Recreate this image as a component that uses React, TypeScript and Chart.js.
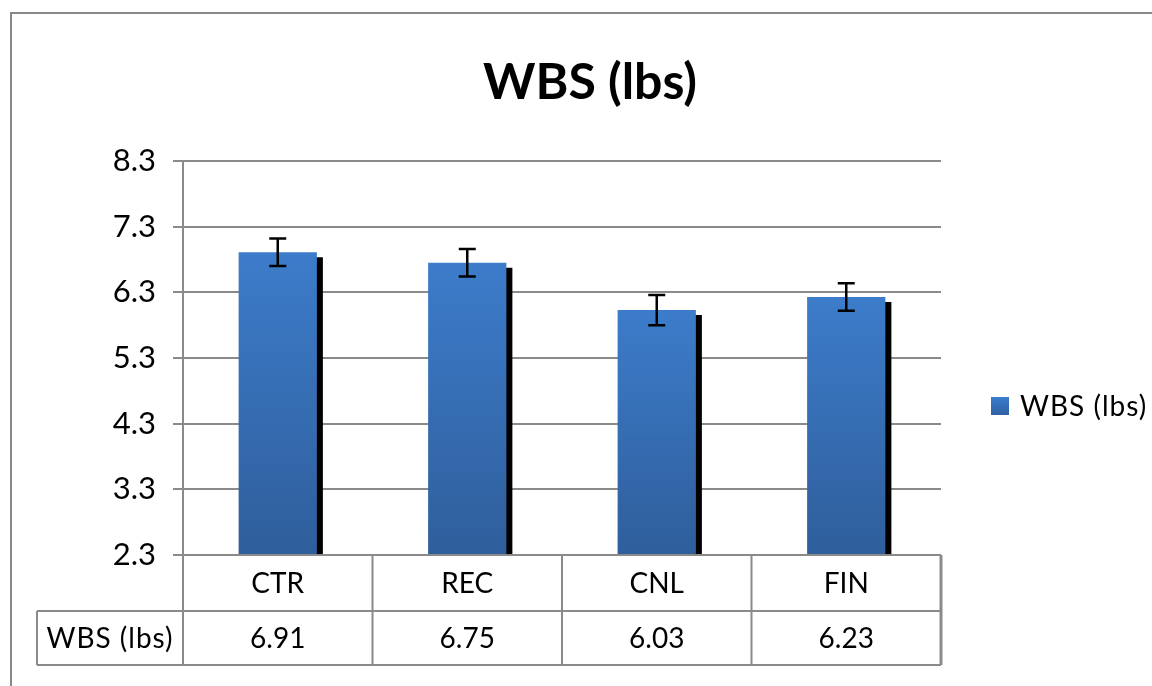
import React, { useEffect, useRef } from 'react';
import { Chart, registerables } from 'chart.js';

Chart.register(...registerables);

const chartTitle = 'WBS (lbs)';
const seriesName = 'WBS (lbs)';
const categories = ['CTR', 'REC', 'CNL', 'FIN'];
const values = [6.91, 6.75, 6.03, 6.23];
const errors = [0.21, 0.21, 0.23, 0.21];
const yTicks = [2.3, 3.3, 4.3, 5.3, 6.3, 7.3, 8.3];

const FONT = 'Lato, "Noto Sans", sans-serif';
const GRID = '#8a8a8a';

const decorPlugin = {
  id: 'decor',
  beforeDatasetsDraw(chart: any) {
    const ctx = chart.ctx;
    ctx.save();
    ctx.shadowColor = '#000000';
    ctx.shadowOffsetX = 6;
    ctx.shadowOffsetY = 5;
    ctx.shadowBlur = 0;
  },
  afterDatasetsDraw(chart: any) {
    const ctx = chart.ctx;
    ctx.restore();
    // error bars
    const meta = chart.getDatasetMeta(0);
    const y = chart.scales.y;
    ctx.save();
    ctx.strokeStyle = '#000';
    ctx.lineWidth = 2.5;
    meta.data.forEach((bar: any, i: number) => {
      const x = bar.x;
      const yt = y.getPixelForValue(values[i] + errors[i]);
      const yb = y.getPixelForValue(values[i] - errors[i]);
      ctx.beginPath();
      ctx.moveTo(x, yt);
      ctx.lineTo(x, yb);
      ctx.moveTo(x - 8.5, yt);
      ctx.lineTo(x + 8.5, yt);
      ctx.moveTo(x - 8.5, yb);
      ctx.lineTo(x + 8.5, yb);
      ctx.stroke();
    });
    ctx.restore();
  },
  afterDraw(chart: any) {
    const ctx = chart.ctx;
    const ca = chart.chartArea;
    const xs = chart.scales.x;
    ctx.save();
    // outer frame
    ctx.strokeStyle = '#888888';
    ctx.lineWidth = 2;
    ctx.beginPath();
    ctx.moveTo(11, 686);
    ctx.lineTo(11, 13);
    ctx.lineTo(1152, 13);
    ctx.stroke();

    // title
    ctx.fillStyle = '#000';
    ctx.font = `bold 50px ${FONT}`;
    ctx.textAlign = 'center';
    ctx.textBaseline = 'alphabetic';
    ctx.fillText(chartTitle, 590, 99);

    // legend
    const lg = ctx.createLinearGradient(0, 397, 0, 415);
    lg.addColorStop(0, '#3c7dcd');
    lg.addColorStop(1, '#2e60a0');
    ctx.fillStyle = lg;
    ctx.fillRect(991, 397, 18, 18);
    ctx.fillStyle = '#000';
    ctx.font = `28px ${FONT}`;
    (ctx as any).letterSpacing = '1px';
    ctx.textAlign = 'left';
    ctx.textBaseline = 'middle';
    ctx.fillText(seriesName, 1020, 407);
    (ctx as any).letterSpacing = '0px';

    // data table
    const top = ca.bottom;
    const mid = 611;
    const bot = 665;
    const left = ca.left;
    const right = ca.right;
    const labelLeft = 37;
    ctx.strokeStyle = GRID;
    ctx.lineWidth = 2;
    ctx.beginPath();
    ctx.moveTo(left, top);
    ctx.lineTo(right, top);
    ctx.moveTo(labelLeft, mid);
    ctx.lineTo(right, mid);
    ctx.moveTo(labelLeft, bot);
    ctx.lineTo(right, bot);
    ctx.moveTo(labelLeft, mid);
    ctx.lineTo(labelLeft, bot);
    ctx.moveTo(left, top);
    ctx.lineTo(left, bot);
    for (let i = 1; i < categories.length; i++) {
      const bx = (xs.getPixelForValue(i - 1) + xs.getPixelForValue(i)) / 2;
      ctx.moveTo(bx, top);
      ctx.lineTo(bx, bot);
    }
    ctx.stroke();
    ctx.lineWidth = 3;
    ctx.beginPath();
    ctx.moveTo(right, top);
    ctx.lineTo(right, bot);
    ctx.stroke();

    ctx.fillStyle = '#000';
    ctx.font = `28px ${FONT}`;
    ctx.textAlign = 'center';
    ctx.textBaseline = 'middle';
    categories.forEach((c, i) => {
      const cx = xs.getPixelForValue(i);
      ctx.fillText(c, cx, (top + mid) / 2 + 1);
      ctx.fillText(values[i].toFixed(2), cx, (mid + bot) / 2 + 1);
    });
    (ctx as any).letterSpacing = '1px';
    ctx.fillText(seriesName, (labelLeft + left) / 2, (mid + bot) / 2 + 1);
    ctx.restore();
  },
};

export default function App() {
  const ref = useRef<HTMLCanvasElement | null>(null);
  useEffect(() => {
    document.body.style.margin = '0';
    const canvas = ref.current;
    if (!canvas) return;
    const chart = new Chart(canvas, {
      type: 'bar',
      data: {
        labels: categories,
        datasets: [
          {
            label: seriesName,
            data: values,
            clip: 0,
            categoryPercentage: 1,
            barPercentage: 0.413,
            borderWidth: 0,
            backgroundColor: (c: any) => {
              const ch = c.chart;
              const ca = ch.chartArea;
              if (!ca || c.type !== 'data') return '#3a78c6';
              const yTop = ch.scales.y.getPixelForValue(values[c.dataIndex]);
              const g = ch.ctx.createLinearGradient(0, yTop, 0, ca.bottom);
              g.addColorStop(0, '#3c7cca');
              g.addColorStop(1, '#2f5e9b');
              return g;
            },
          },
        ],
      },
      options: {
        animation: false,
        responsive: true,
        maintainAspectRatio: false,
        layout: { padding: { top: 161, right: 211, bottom: 131, left: 0 } },
        plugins: {
          legend: { display: false },
          title: { display: false },
          tooltip: { enabled: false },
        },
        scales: {
          x: { display: false, offset: true },
          y: {
            min: 2.3,
            max: 8.3,
            afterBuildTicks: (s: any) => {
              s.ticks = yTicks.map((v) => ({ value: v }));
            },
            afterFit: (s: any) => {
              s.width = 183;
            },
            ticks: {
              color: '#000',
              padding: 17,
              font: { family: FONT, size: 31 },
              callback: (v: any) => Number(v).toFixed(1),
            },
            grid: { color: GRID, lineWidth: 2, tickLength: 10, drawTicks: true },
            border: { color: GRID, width: 2 },
          },
        },
      },
      plugins: [decorPlugin],
    });
    return () => chart.destroy();
  }, []);
  return (
    <div style={{ width: 1152, height: 686, position: 'relative' }}>
      <canvas ref={ref} />
    </div>
  );
}
